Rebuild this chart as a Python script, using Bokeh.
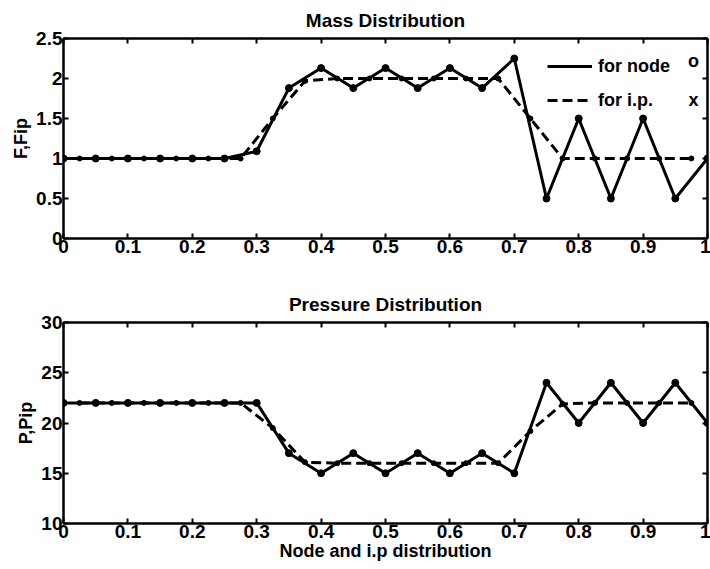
from bokeh.plotting import figure
from bokeh.layouts import column
from bokeh.models import (LinearAxis, FixedTicker, CustomJSTickFormatter, Range1d,
                          Legend, LegendItem, Label, CustomLabelingPolicy)
from bokeh.embed import file_html
from bokeh.resources import INLINE

# Nodal positions and integration-point (i.p.) positions
node_x = [0.0, 0.05, 0.1, 0.15, 0.2, 0.25, 0.3, 0.35, 0.4, 0.45, 0.5,
          0.55, 0.6, 0.65, 0.7, 0.75, 0.8, 0.85, 0.9, 0.95, 1.0]
ip_x = [0.025, 0.075, 0.125, 0.175, 0.225, 0.275, 0.325, 0.375, 0.425, 0.475,
        0.525, 0.575, 0.625, 0.675, 0.725, 0.775, 0.825, 0.875, 0.925, 0.975]

# Mass distribution
mass_node = [1.0, 1.0, 1.0, 1.0, 1.0, 1.0, 1.09, 1.88, 2.13, 1.88, 2.13,
             1.88, 2.13, 1.88, 2.25, 0.5, 1.5, 0.5, 1.5, 0.5, 1.0]
mass_ip = [1.0, 1.0, 1.0, 1.0, 1.0, 1.0, 1.5, 1.97, 2.0, 2.0,
           2.0, 2.0, 2.0, 2.0, 1.5, 1.0, 1.0, 1.0, 1.0, 1.0]

# Pressure distribution
pres_node = [22, 22, 22, 22, 22, 22, 22, 17, 15, 17, 15,
             17, 15, 17, 15, 24, 20, 24, 20, 24, 20]
pres_ip = [22, 22, 22, 22, 22, 22, 19.5, 16.1, 16, 16,
           16, 16, 16, 16, 19.2, 21.9, 22, 22, 22, 22]

x_ticks = [0, 0.1, 0.2, 0.3, 0.4, 0.5, 0.6, 0.7, 0.8, 0.9, 1.0]
mass_ticks = [0, 0.5, 1.0, 1.5, 2.0, 2.5]
pres_ticks = [10, 15, 20, 25, 30]

FONT = "Liberation Sans"
fmt = CustomJSTickFormatter(code="return String(Math.round(tick * 10) / 10);")
# tick marks only (no labels) for the mirrored top/right box axes
no_labels = CustomLabelingPolicy(code="return new Set()")


def style_axis(ax, ticks, show_labels=True):
    ax.ticker = FixedTicker(ticks=ticks)
    ax.formatter = fmt
    ax.axis_line_color = "black"
    ax.axis_line_width = 2
    ax.major_tick_line_color = "black"
    ax.major_tick_line_width = 2
    ax.major_tick_in = 5
    ax.major_tick_out = 0
    ax.minor_tick_line_color = None
    ax.major_label_standoff = 1
    ax.major_label_text_font = FONT
    ax.major_label_text_font_style = "bold"
    ax.major_label_text_font_size = "19px"
    ax.major_label_text_color = "black"
    ax.axis_label_text_font = FONT
    ax.axis_label_text_font_style = "bold"
    ax.axis_label_text_font_size = "18px"
    ax.axis_label_text_color = "black"
    ax.axis_label_standoff = 2
    if not show_labels:
        ax.major_label_policy = no_labels
        ax.major_label_text_font_size = "0px"
        ax.major_label_standoff = 0
        ax.axis_label_standoff = 0


def make_panel(title, ylab, yr, yticks, node_y, ip_y, height, top, bottom, xlab=None):
    p = figure(width=710, height=height, output_backend="svg", toolbar_location=None,
               x_range=Range1d(0, 1), y_range=Range1d(*yr),
               min_border_left=63, min_border_right=3,
               min_border_top=top, min_border_bottom=bottom,
               background_fill_color="white", border_fill_color="white")
    p.title.text = title
    p.title.align = "center"
    p.title.text_font = FONT
    p.title.text_font_style = "bold"
    p.title.text_font_size = "19px"
    p.title.text_color = "black"
    p.title.standoff = 15
    p.grid.visible = False
    p.outline_line_color = "black"
    p.outline_line_width = 2

    style_axis(p.xaxis[0], x_ticks)
    style_axis(p.yaxis[0], yticks)
    p.yaxis[0].axis_label = ylab
    if xlab:
        p.xaxis[0].axis_label = xlab
        p.xaxis[0].axis_label_standoff = 0

    top_ax = LinearAxis()
    style_axis(top_ax, x_ticks, show_labels=False)
    p.add_layout(top_ax, "above")
    right_ax = LinearAxis()
    style_axis(right_ax, yticks, show_labels=False)
    p.add_layout(right_ax, "right")

    solid = p.line(node_x, node_y, line_color="black", line_width=3)
    p.scatter(node_x, node_y, size=7, fill_color="black", line_color="black")
    dashed = p.line(ip_x, ip_y, line_color="black", line_width=3, line_dash="10 5")
    p.scatter(ip_x, ip_y, size=5, fill_color="black", line_color="black")
    return p, solid, dashed


p1, s1, d1 = make_panel("Mass Distribution", "F,Fip", (0, 2.5), mass_ticks,
                        mass_node, mass_ip, 280, 37, 42)
p2, s2, d2 = make_panel("Pressure Distribution", "P,Pip", (10, 30), pres_ticks,
                        pres_node, pres_ip, 289, 42, 46, xlab="Node and i.p distribution")

legend = Legend(items=[LegendItem(label="for node", renderers=[s1]),
                       LegendItem(label="for i.p.", renderers=[d1])],
                location=(484, 127), orientation="vertical",
                glyph_width=45, glyph_height=22, spacing=12, padding=0, margin=0,
                label_standoff=6, background_fill_alpha=0, border_line_color=None,
                label_text_font=FONT, label_text_font_style="bold",
                label_text_font_size="18px", label_text_color="black")
p1.add_layout(legend)

for sym, yy in (("o", 178), ("x", 139)):
    p1.add_layout(Label(x=630, y=yy, x_units="screen", y_units="screen", text=sym,
                        text_align="center", text_baseline="middle",
                        text_font=FONT, text_font_style="bold",
                        text_font_size="18px", text_color="black"))

layout = column(p1, p2, spacing=0)
open("out.html", "w").write(file_html(layout, INLINE))
